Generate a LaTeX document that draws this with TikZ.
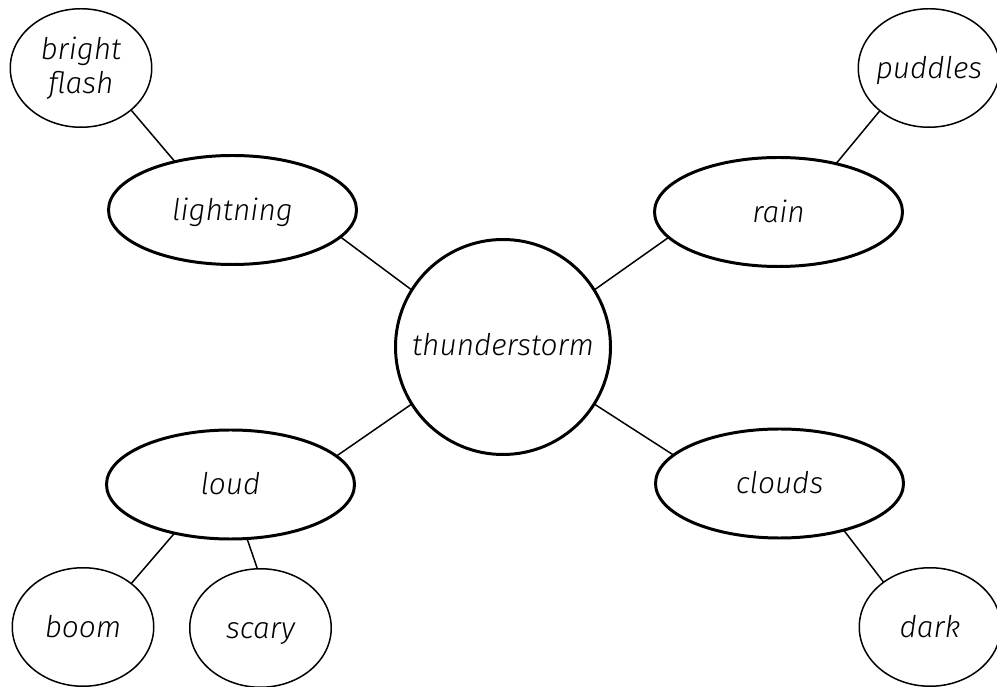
\documentclass[tikz,border=0pt]{standalone}
\usepackage{fontspec}
\setmainfont{Fira Sans Light}[ItalicFont={Fira Sans Light Italic}]
\usetikzlibrary{shapes.geometric}
\begin{document}
\begin{tikzpicture}[x=0.2mm,y=-0.2mm,
  word/.style={inner sep=0pt,inner xsep=-4mm,outer sep=0pt,text height=12.4pt,text depth=1pt,align=center,font=\itshape\fontsize{17}{19.5}\selectfont},
  topic/.style={word,ellipse,draw,line width=1.7pt,minimum width=49.6mm,minimum height=21.8mm},
  leaf/.style={word,ellipse,draw,line width=0.85pt,minimum width=28.3mm,minimum height=23.7mm},
  link/.style={line width=0.85pt}]
\useasboundingbox (0,0) rectangle (997,687);
\node[word,circle,draw,line width=1.7pt,minimum size=43mm,text height=11pt] (storm) at (503,347) {thunderstorm};
\node[topic] (lightning) at (232.5,210) {lightning};
\node[topic] (rain) at (778.5,212) {rain};
\node[topic] (loud) at (230.5,484.5) {loud};
\node[topic] (clouds) at (779.5,483.5) {clouds};
\node[leaf,text height=,text depth=] (flash) at (81,68) {bright\\flash};
\node[leaf] (puddles) at (929,68) {puddles};
\node[leaf] (boom) at (83,627) {boom};
\node[leaf] (scary) at (260.5,628) {scary};
\node[leaf] (dark) at (930,627) {dark};
\draw[link] (flash.-40) -- (lightning.140);
\draw[link] (lightning.-14) -- (storm.148);
\draw[link] (puddles.221) -- (rain.40);
\draw[link] (rain.193) -- (storm.32);
\draw[link] (loud.15) -- (storm.212);
\draw[link] (loud.221) -- (boom.42);
\draw[link] (loud.-73) -- (scary.93);
\draw[link] (clouds.165) -- (storm.-32);
\draw[link] (clouds.-36) -- (dark.136);
\end{tikzpicture}
\end{document}
